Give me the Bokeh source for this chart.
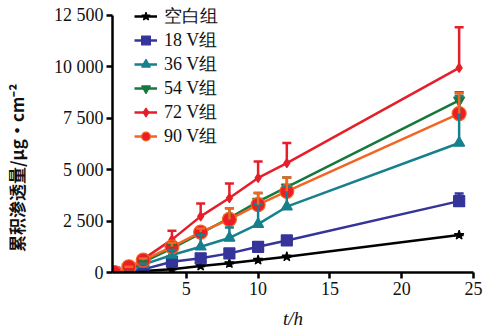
from bokeh.plotting import figure
from bokeh.models import (Range1d, FixedTicker, Legend, LegendItem, Whisker,
                          TeeHead, ColumnDataSource)
from bokeh.embed import file_html
from bokeh.resources import INLINE

# ---- data ----
t = [0, 1, 2, 4, 6, 8, 10, 12, 24]
blank = [0, 30, 70, 155, 315, 445, 607, 767, 1820]
v18 = [0, 50, 150, 525, 690, 930, 1250, 1560, 3470]
v36 = [0, 80, 380, 850, 1250, 1680, 2350, 3200, 6300]
v54 = [0, 100, 500, 1170, 1900, 2650, 3450, 4150, 8370]
v72 = [0, 150, 650, 1600, 2730, 3620, 4600, 5320, 9950]
v90 = [0, 280, 600, 1250, 1960, 2580, 3300, 3950, 7730]

e_blank = [0, 0, 0, 0, 0, 0, 0, 0, 0]
e18 = [0, 0, 0, 50, 60, 80, 100, 120, 370]
e36 = [0, 0, 60, 250, 570, 510, 980, 970, 2300]
e54 = [0, 0, 80, 200, 240, 470, 420, 470, 400]
e72 = [0, 0, 100, 430, 630, 710, 800, 980, 1980]
e90 = [0, 0, 80, 200, 180, 540, 570, 670, 1000]

labels = ["空白组", "18 V组", "36 V组", "54 V组", "72 V组", "90 V组"]
y_ticks = [0, 2500, 5000, 7500, 10000, 12500]
y_tick_labels = ["0", "2 500", "5 000", "7 500", "10 000", "12 500"]
x_ticks = [5, 10, 15, 20, 25]
y_title = "累积渗透量/μg·cm⁻²"
x_title = "t/h"

series = [blank, v18, v36, v54, v72, v90]
errors = [e_blank, e18, e36, e54, e72, e90]
line_colors = ["#000000", "#34349a", "#16808c", "#16783c", "#e51f2a", "#f26522"]
fill_colors = ["#000000", "#34349a", "#16808c", "#16783c", "#e51f2a", "#ee1c25"]
markers = ["star", "square", "triangle", "inverted_triangle", "diamond", "circle"]
sizes = [10, 11, 11, 11, 9, 14]

SERIF = "Liberation Serif"

p = figure(width=483, height=335, output_backend="svg", toolbar_location=None,
           x_range=Range1d(-0.14, 25), y_range=Range1d(0, 13082),
           min_border_left=108, min_border_right=10, min_border_top=3,
           min_border_bottom=63)
p.outline_line_color = None
p.xgrid.visible = False
p.ygrid.visible = False

items = []
for ys, es, lc, fc, mk, sz, lab in zip(series, errors, line_colors, fill_colors,
                                       markers, sizes, labels):
    src = ColumnDataSource(dict(t=t, y=ys, up=[a + b for a, b in zip(ys, es)]))
    w = Whisker(base="t", lower="y", upper="up", source=src, dimension="height",
                line_color=lc, line_width=2.5,
                upper_head=TeeHead(size=9, line_color=lc, line_width=2.5),
                lower_head=None, level="glyph")
    p.add_layout(w)
    lr = p.line("t", "y", source=src, line_color=lc, line_width=2.5)
    mr = p.scatter("t", "y", source=src, marker=mk, size=sz, fill_color=fc,
                   line_color=lc, line_width=1.2)
    items.append(LegendItem(label=lab, renderers=[lr, mr]))

legend = Legend(items=items, location=(22, 124), padding=0, margin=0, spacing=-2,
                glyph_height=22, glyph_width=23, label_height=22,
                label_standoff=7, border_line_color=None,
                background_fill_alpha=0,
                label_text_font=SERIF, label_text_font_size="18px",
                label_text_color="#111111")
p.add_layout(legend, "center")

# axes
xa = p.xaxis[0]
ya = p.yaxis[0]
xa.ticker = FixedTicker(ticks=x_ticks)
ya.ticker = FixedTicker(ticks=y_ticks)
ya.bounds = (0, 12500)
ya.major_label_overrides = {k: v for k, v in zip(y_ticks, y_tick_labels)}
for ax in (xa, ya):
    ax.axis_line_width = 2.5
    ax.axis_line_color = "black"
    ax.major_tick_line_width = 2.5
    ax.major_tick_line_color = "black"
    ax.major_tick_out = 6
    ax.major_tick_in = 0
    ax.minor_tick_line_color = None
    ax.major_label_text_font = SERIF
    ax.major_label_text_font_size = "18px"
    ax.major_label_text_color = "#111111"
    ax.major_label_standoff = 3
ya.major_label_orientation = "horizontal"

ya.axis_label = y_title + "\u3000\u3000\u3000\u2002"
ya.axis_label_text_font = "Noto Sans CJK SC"
ya.axis_label_text_font_style = "bold"
ya.axis_label_text_font_size = "17px"
ya.axis_label_text_color = "#111111"
ya.axis_label_standoff = 22

xa.axis_label = x_title
xa.axis_label_text_font = SERIF
xa.axis_label_text_font_style = "italic"
xa.axis_label_text_font_size = "19px"
xa.axis_label_text_color = "#111111"
xa.axis_label_standoff = 10

open("out.html", "w").write(file_html(p, INLINE))
